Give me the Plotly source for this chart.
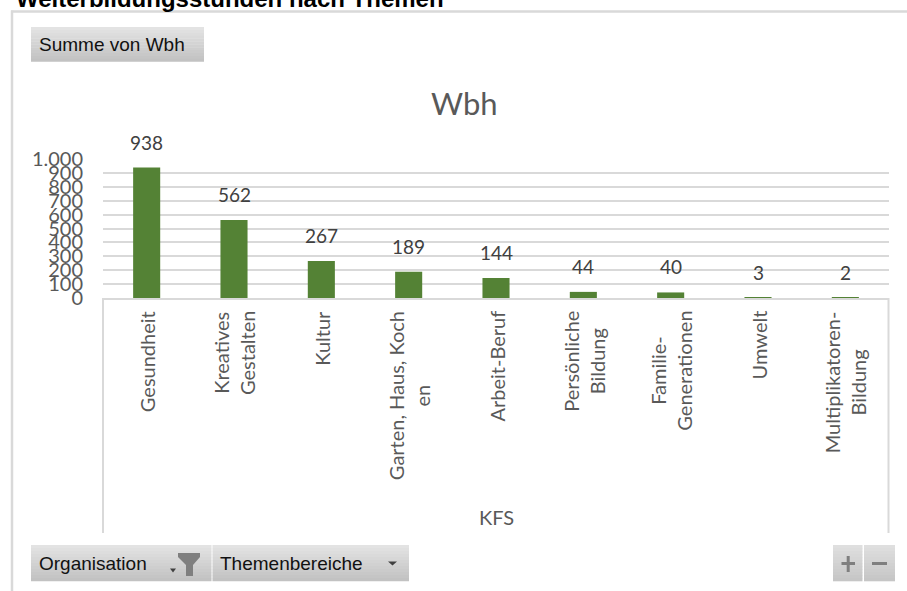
import plotly.graph_objects as go

# ---------------- data ----------------
categories = ["Gesundheit", "Kreatives Gestalten", "Kultur", "Garten, Haus, Kochen",
              "Arbeit-Beruf", "Persönliche Bildung", "Familie-Generationen",
              "Umwelt", "Multiplikatoren-Bildung"]
category_labels = ["Gesundheit", "Kreatives<br>Gestalten", "Kultur", "Garten, Haus, Koch<br>en",
                   "Arbeit-Beruf", "Persönliche<br>Bildung", "Familie-<br>Generationen",
                   "Umwelt", "Multiplikatoren-<br>Bildung"]
wbh = [938, 562, 267, 189, 144, 44, 40, 3, 2]
y_tick_values = [0, 100, 200, 300, 400, 500, 600, 700, 800, 900, 1000]
y_tick_labels = ["0", "100", "200", "300", "400", "500", "600", "700", "800", "900", "1.000"]

chart_title = "Wbh"
axis_title = "KFS"
page_title = "Weiterbildungsstunden nach Themen"
value_button = "Summe von Wbh"
filter_buttons = ["Organisation", "Themenbereiche"]

# ---------------- layout geometry (pixels) ----------------
W, H = 907, 591
L, R, T, B = 103, 889, 159, 298


def px(x):
    return (x - L) / (R - L)


def py(y):
    return (B - y) / (B - T)


FONT = "Lato, 'Open Sans', sans-serif"
BTN_FONT = "'Liberation Sans', Arial, sans-serif"
GREY_TXT = "#595959"
GRID = "#d9d9d9"

fig = go.Figure()
fig.add_trace(go.Bar(
    x=categories, y=wbh, marker=dict(color="#548235", line=dict(width=0)),
    hoverinfo="x+y", showlegend=False,
))

shapes = []
annotations = []

# outer frame (top + left)
shapes.append(dict(type="line", xref="paper", yref="paper", x0=px(11), x1=px(907), y0=py(11.5), y1=py(11.5),
                   line=dict(color=GRID, width=2.5)))
shapes.append(dict(type="line", xref="paper", yref="paper", x0=px(12), x1=px(12), y0=py(10.5), y1=py(592),
                   line=dict(color=GRID, width=2.5)))
# category-axis box side lines
for xx in (L, R - 0.5):
    shapes.append(dict(type="line", xref="paper", yref="paper", x0=px(xx), x1=px(xx), y0=py(B), y1=py(533),
                       line=dict(color=GRID, width=2)))


def button(x0, x1, y0, y1, top=(0xe3, 0xe3, 0xe3), bottom=(0xc2, 0xc2, 0xc2), n=12):
    h = (y1 - y0) / n
    for i in range(n):
        t = i / (n - 1)
        c = tuple(int(round(top[k] + (bottom[k] - top[k]) * t)) for k in range(3))
        shapes.append(dict(type="rect", xref="paper", yref="paper",
                           x0=px(x0), x1=px(x1), y0=py(y0 + i * h), y1=py(y0 + (i + 1) * h + 0.3),
                           fillcolor="rgb(%d,%d,%d)" % c, line=dict(width=0), layer="above"))


# buttons
button(31, 204, 27, 61.5)
button(31, 211.5, 545, 581)
button(212.5, 409, 545, 581)
button(833, 862.5, 545, 581, top=(0xdf, 0xdf, 0xdf), bottom=(0xc6, 0xc6, 0xc6))
button(864, 895, 545, 581, top=(0xdf, 0xdf, 0xdf), bottom=(0xc6, 0xc6, 0xc6))

# funnel icon
fun = [(178, 553), (200, 553), (200, 557), (193, 565), (193, 576), (186, 576), (186, 565), (178, 557)]
path = "M " + " L ".join("%f,%f" % (px(a), py(b)) for a, b in fun) + " Z"
shapes.append(dict(type="path", xref="paper", yref="paper", path=path, fillcolor="#7f7f7f",
                   line=dict(width=0), layer="above"))
# small dropdown triangles
for (cx, cy, w) in [(173, 570, 6), (392.5, 563, 9)]:
    tri = [(cx - w / 2, cy - 1.5), (cx + w / 2, cy - 1.5), (cx, cy + 2.5)]
    path = "M " + " L ".join("%f,%f" % (px(a), py(b)) for a, b in tri) + " Z"
    shapes.append(dict(type="path", xref="paper", yref="paper", path=path, fillcolor="#404040",
                       line=dict(width=0), layer="above"))
# plus / minus glyphs
shapes.append(dict(type="line", xref="paper", yref="paper", x0=px(841.5), x1=px(855), y0=py(563.5), y1=py(563.5),
                   line=dict(color="#7f7f7f", width=3), layer="above"))
shapes.append(dict(type="line", xref="paper", yref="paper", x0=px(848.2), x1=px(848.2), y0=py(556), y1=py(572),
                   line=dict(color="#7f7f7f", width=3), layer="above"))
shapes.append(dict(type="line", xref="paper", yref="paper", x0=px(872), x1=px(887), y0=py(563.5), y1=py(563.5),
                   line=dict(color="#7f7f7f", width=3), layer="above"))

# page title (cut off at the top)
annotations.append(dict(text="<b>%s</b>" % page_title, xref="paper", yref="paper", x=px(14), y=py(-2),
                        xanchor="left", yanchor="middle", showarrow=False,
                        font=dict(family=BTN_FONT, size=24, color="#000000")))
# button labels
annotations.append(dict(text=value_button, xref="paper", yref="paper", x=px(37), y=py(44),
                        xanchor="left", yanchor="middle", showarrow=False,
                        font=dict(family=BTN_FONT, size=19, color="#111111")))
annotations.append(dict(text=filter_buttons[0], xref="paper", yref="paper", x=px(37), y=py(563.5),
                        xanchor="left", yanchor="middle", showarrow=False,
                        font=dict(family=BTN_FONT, size=19, color="#111111")))
annotations.append(dict(text=filter_buttons[1], xref="paper", yref="paper", x=px(218), y=py(563.5),
                        xanchor="left", yanchor="middle", showarrow=False,
                        font=dict(family=BTN_FONT, size=19, color="#111111")))

# chart title and axis title
annotations.append(dict(text=chart_title, xref="paper", yref="paper", x=px(464), y=py(103),
                        xanchor="center", yanchor="middle", showarrow=False,
                        font=dict(family=FONT, size=31, color=GREY_TXT)))
annotations.append(dict(text=axis_title, xref="paper", yref="paper", x=px(496), y=py(517),
                        xanchor="center", yanchor="middle", showarrow=False,
                        font=dict(family=FONT, size=20, color=GREY_TXT)))

# data labels
for c, v in zip(categories, wbh):
    annotations.append(dict(text=str(v), xref="x", yref="y", x=c, y=v, xanchor="center", yanchor="bottom",
                            yshift=12, showarrow=False, font=dict(family=FONT, size=19, color="#404040")))

# category labels (rotated, centred lines)
for c, lab in zip(categories, category_labels):
    annotations.append(dict(text=lab, xref="x", yref="paper", x=c, y=py(309), xanchor="center", yanchor="top",
                            textangle=-90, align="center", showarrow=False,
                            font=dict(family=FONT, size=20, color=GREY_TXT)))

fig.update_layout(
    width=W, height=H,
    margin=dict(l=L, r=W - R, t=T, b=H - B, pad=0),
    paper_bgcolor="white", plot_bgcolor="white",
    bargap=0.69,
    showlegend=False,
    shapes=shapes,
    annotations=annotations,
    xaxis=dict(showticklabels=False, showgrid=False, zeroline=False, ticks="",
               showline=True, linecolor=GRID, linewidth=2, fixedrange=True),
    yaxis=dict(range=[0, 1000], tickmode="array", tickvals=y_tick_values, ticktext=y_tick_labels,
               showgrid=True, gridcolor=GRID, gridwidth=1.6, zeroline=False, showline=False,
               ticks="", ticklabelstandoff=19,
               tickfont=dict(family=FONT, size=20, color=GREY_TXT), fixedrange=True),
)

fig.write_html("out.html", config={"displayModeBar": False},
               post_script="document.body.style.margin='0';document.body.style.overflow='hidden';")
